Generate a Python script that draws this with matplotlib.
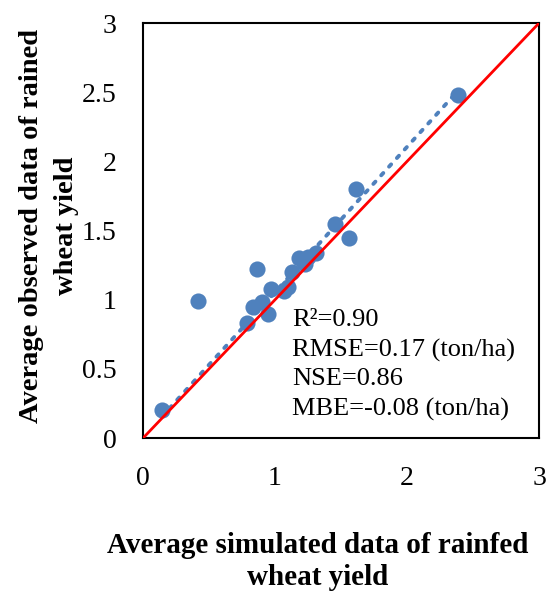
import numpy as np
import matplotlib.pyplot as plt

plt.rcParams['font.family'] = ['Liberation Serif', 'DejaVu Serif']

# simulated vs observed rainfed wheat yield (ton/ha)
sim = [0.14, 0.42, 0.785, 0.83, 0.905, 0.95, 0.97, 0.86, 1.07, 1.10,
       1.13, 1.18, 1.23, 1.25, 1.31, 1.455, 1.56, 1.615, 2.387]
obs = [0.20, 0.99, 0.835, 0.95, 0.985, 0.90, 1.08, 1.22, 1.065, 1.095,
       1.20, 1.30, 1.26, 1.31, 1.34, 1.55, 1.45, 1.80, 2.48]
# linear trend line
trend_slope = 1.05
trend_intercept = 0.005
yticks = [0, 0.5, 1, 1.5, 2, 2.5, 3]
ytick_labels = ['0', '0.5', '1', '1.5', '2', '2.5', '3']
xticks = [0, 1, 2, 3]
stats = "R\u00b2=0.90\nRMSE=0.17 (ton/ha)\nNSE=0.86\nMBE=-0.08 (ton/ha)"

fig = plt.figure(figsize=(5.48, 5.92), dpi=100)
ax = fig.add_axes([0.261, 0.260, 0.7226, 0.701])

ax.scatter(sim, obs, s=135, color='#4F81BD', zorder=2, linewidths=0)

xs = np.array([min(sim), max(sim)])
ax.plot(xs, trend_slope * xs + trend_intercept, color='#4F81BD', lw=2.8,
        linestyle=(0, (0.8, 2.2)), dash_capstyle='round', zorder=3)

# 1:1 line
ax.plot([0, 3], [0, 3], color='#FF0000', lw=2, zorder=4)

ax.set_xlim(0, 3)
ax.set_ylim(0, 3)
ax.set_xticks(xticks)
ax.set_yticks(yticks)
ax.set_xticklabels([str(t) for t in xticks])
ax.set_yticklabels(ytick_labels)
ax.tick_params(length=0, labelsize=20)
ax.tick_params(axis='x', pad=20)
ax.tick_params(axis='y', pad=19)
for sp in ax.spines.values():
    sp.set_linewidth(1.5)

ax.text(1.13, 0.93, stats, fontsize=19, va='top', ha='left', linespacing=1.4)

fig.text(0.579, 0.0515, "Average simulated data of rainfed\nwheat yield",
         ha='center', va='center', fontsize=21, fontweight='bold', linespacing=1.28)
fig.text(0.089, 0.618, "Average observed data of rained\nwheat yield",
         ha='center', va='center', fontsize=20.5, fontweight='bold',
         rotation=90, linespacing=1.5)

fig.savefig('out.png', dpi=100)
